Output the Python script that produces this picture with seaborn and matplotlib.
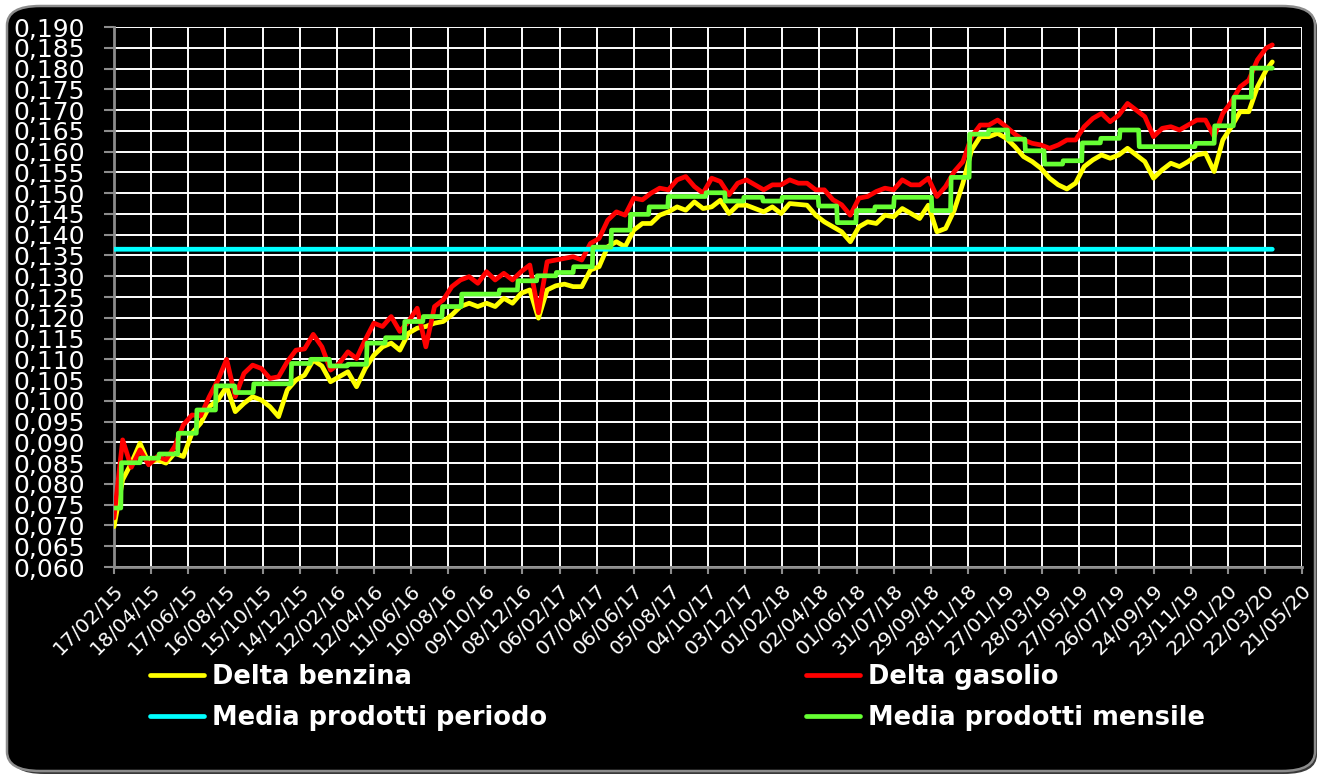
import numpy as np
import pandas as pd
import matplotlib
matplotlib.use("Agg")
import matplotlib.pyplot as plt
import matplotlib.dates as mdates
from matplotlib.patches import FancyBboxPatch
from matplotlib.ticker import FuncFormatter, MultipleLocator
import seaborn as sns

# campioni ogni 14 giorni + ultimo giorno disponibile
date_campioni = pd.date_range("2015-02-17", periods=134, freq="14D").append(
    pd.DatetimeIndex(["2020-04-03"]))

delta_benzina = [
    0.0697, 0.0810, 0.0850, 0.0898, 0.0850, 0.0858, 0.0850, 0.0874, 0.0866, 0.0922,
    0.0946, 0.0986, 0.1002, 0.1034, 0.0974, 0.0994, 0.1010, 0.1002, 0.0986, 0.0962,
    0.1026, 0.1050, 0.1062, 0.1098, 0.1084, 0.1046, 0.1058, 0.1070, 0.1034, 0.1078,
    0.1110, 0.1130, 0.1139, 0.1122, 0.1163, 0.1175, 0.1179, 0.1187, 0.1191, 0.1207,
    0.1227, 0.1235, 0.1227, 0.1235, 0.1227, 0.1247, 0.1235, 0.1259, 0.1267, 0.1199,
    0.1267, 0.1277, 0.1281, 0.1275, 0.1275, 0.1315, 0.1323, 0.1371, 0.1383, 0.1371,
    0.1411, 0.1427, 0.1427, 0.1447, 0.1455, 0.1467, 0.1459, 0.1479, 0.1463, 0.1467,
    0.1483, 0.1451, 0.1471, 0.1471, 0.1463, 0.1455, 0.1467, 0.1451, 0.1475, 0.1473,
    0.1471, 0.1447, 0.1431, 0.1419, 0.1407, 0.1383, 0.1419, 0.1431, 0.1427, 0.1447,
    0.1443, 0.1463, 0.1451, 0.1439, 0.1471, 0.1407, 0.1415, 0.1459, 0.1524, 0.1604,
    0.1636, 0.1636, 0.1644, 0.1632, 0.1612, 0.1588, 0.1576, 0.1560, 0.1536, 0.1520,
    0.1510, 0.1524, 0.1564, 0.1580, 0.1592, 0.1584, 0.1592, 0.1608, 0.1592, 0.1576,
    0.1536, 0.1556, 0.1572, 0.1564, 0.1576, 0.1592, 0.1596, 0.1552, 0.1628, 0.1660,
    0.1696, 0.1696, 0.1756, 0.1796, 0.1816,
]

delta_gasolio = [
    0.0718, 0.0906, 0.0840, 0.0882, 0.0846, 0.0866, 0.0858, 0.0890, 0.0942, 0.0966,
    0.0964, 0.1010, 0.1050, 0.1100, 0.1010, 0.1066, 0.1086, 0.1078, 0.1054, 0.1058,
    0.1094, 0.1122, 0.1125, 0.1160, 0.1130, 0.1074, 0.1090, 0.1118, 0.1102, 0.1147,
    0.1187, 0.1179, 0.1203, 0.1167, 0.1191, 0.1223, 0.1130, 0.1227, 0.1243, 0.1275,
    0.1291, 0.1299, 0.1283, 0.1311, 0.1291, 0.1307, 0.1291, 0.1311, 0.1327, 0.1212,
    0.1335, 0.1339, 0.1343, 0.1347, 0.1339, 0.1379, 0.1391, 0.1435, 0.1455, 0.1447,
    0.1488, 0.1484, 0.1500, 0.1512, 0.1508, 0.1532, 0.1540, 0.1516, 0.1500, 0.1536,
    0.1528, 0.1496, 0.1524, 0.1532, 0.1520, 0.1508, 0.1520, 0.1520, 0.1532, 0.1524,
    0.1524, 0.1508, 0.1508, 0.1484, 0.1472, 0.1447, 0.1488, 0.1492, 0.1504, 0.1512,
    0.1508, 0.1532, 0.1520, 0.1520, 0.1536, 0.1492, 0.1516, 0.1552, 0.1576, 0.1636,
    0.1664, 0.1664, 0.1676, 0.1660, 0.1642, 0.1628, 0.1620, 0.1616, 0.1608, 0.1616,
    0.1628, 0.1628, 0.1660, 0.1680, 0.1692, 0.1672, 0.1688, 0.1716, 0.1700, 0.1684,
    0.1636, 0.1656, 0.1660, 0.1652, 0.1664, 0.1676, 0.1676, 0.1636, 0.1692, 0.1720,
    0.1756, 0.1772, 0.1821, 0.1849, 0.1857,
]

# media mensile dei due prodotti, da feb 2015 ad apr 2020
mesi = pd.period_range("2015-02", "2020-04", freq="M")
media_mensile = [
    0.0742, 0.0851, 0.0862, 0.0872, 0.0922, 0.0978, 0.1036, 0.1020, 0.1041, 0.1041, 0.1090,
    0.1100, 0.1084, 0.1088, 0.1139, 0.1152, 0.1191, 0.1203, 0.1227, 0.1257, 0.1257, 0.1267, 0.1289,
    0.1301, 0.1309, 0.1323, 0.1370, 0.1411, 0.1449, 0.1467, 0.1492, 0.1492, 0.1501, 0.1481, 0.1490,
    0.1481, 0.1490, 0.1490, 0.1469, 0.1429, 0.1458, 0.1467, 0.1490, 0.1490, 0.1458, 0.1538, 0.1642,
    0.1652, 0.1630, 0.1602, 0.1570, 0.1578, 0.1621, 0.1632, 0.1652, 0.1612, 0.1612, 0.1612, 0.1620,
    0.1662, 0.1731, 0.1801, 0.1801,
]
media_periodo = 0.1365

etichette_legenda = ["Delta benzina", "Delta gasolio",
                     "Media prodotti periodo", "Media prodotti mensile"]

giorni = pd.date_range("2015-02-17", "2020-04-03", freq="D")
mensile_giorni = pd.Series(media_mensile, index=mesi).reindex(giorni.to_period("M")).values

sns.set_style("dark", {"axes.facecolor": "black", "figure.facecolor": "white"})
plt.rcParams["font.family"] = ["DejaVu Sans"]

fig = plt.figure(figsize=(13.23, 7.77), dpi=100)
W, H = 1323, 777

# cornice nera arrotondata con ombra
ombra = FancyBboxPatch((11 / W, 3 / H), 1306 / W, 766 / H,
                       boxstyle="round,pad=0,rounding_size=0.025",
                       transform=fig.transFigure, facecolor="#3a3a3a",
                       edgecolor="none", zorder=-3)
cornice = FancyBboxPatch((7 / W, 6 / H), 1308 / W, 765 / H,
                         boxstyle="round,pad=0,rounding_size=0.025",
                         transform=fig.transFigure, facecolor="black",
                         edgecolor="#8c8c8c", linewidth=1.8, zorder=-2)
fig.patches.extend([ombra, cornice])

ax = fig.add_axes([114 / W, 1 - 567 / H, (1302 - 114) / W, (567 - 27) / H])
ax.set_facecolor("black")

sns.lineplot(x=date_campioni, y=delta_benzina, ax=ax, color="#ffff00",
             linewidth=3.4, label=etichette_legenda[0], zorder=3)
sns.lineplot(x=date_campioni, y=delta_gasolio, ax=ax, color="#ff0000",
             linewidth=3.4, label=etichette_legenda[1], zorder=4)
sns.lineplot(x=giorni, y=np.full(len(giorni), media_periodo), ax=ax,
             color="#00ffff", linewidth=3.4, label=etichette_legenda[2], zorder=5)
sns.lineplot(x=giorni, y=mensile_giorni, ax=ax, color="#66ff33",
             linewidth=3.4, label=etichette_legenda[3], zorder=6)

handles, labels = ax.get_legend_handles_labels()
if ax.get_legend() is not None:
    ax.get_legend().remove()

ax.set_xlim(pd.Timestamp("2015-02-17"), pd.Timestamp("2020-05-21"))
ax.set_xticks(pd.date_range("2015-02-17", "2020-05-21", freq="60D"))
ax.xaxis.set_major_formatter(mdates.DateFormatter("%d/%m/%y"))
ax.set_ylim(0.060, 0.190)
ax.yaxis.set_major_locator(MultipleLocator(0.005))
ax.yaxis.set_major_formatter(FuncFormatter(lambda v, p: f"{v:.3f}".replace(".", ",")))

ax.grid(True, color="white", linewidth=1.4)
ax.set_axisbelow(True)
for s in ["top", "right"]:
    ax.spines[s].set_visible(False)
for s in ["left", "bottom"]:
    ax.spines[s].set_color("#8c8c8c")
    ax.spines[s].set_linewidth(2)

ax.tick_params(axis="y", colors="#8c8c8c", labelcolor="white", length=7,
               width=1.5, pad=14, labelsize=18, left=True, direction="out")
ax.tick_params(axis="x", colors="#8c8c8c", labelcolor="white", length=5,
               width=1.5, pad=5, labelsize=14.5, bottom=True, direction="out")
plt.setp(ax.get_xticklabels(), rotation=45, ha="right", rotation_mode="anchor")
ax.set_xlabel("")
ax.set_ylabel("")

ordine = [0, 2, 1, 3]
leg = fig.legend([handles[i] for i in ordine], [labels[i] for i in ordine],
                 loc="upper left", bbox_to_anchor=(150 / W, 1 - 664 / H),
                 ncol=2, frameon=False, borderpad=0, borderaxespad=0,
                 handlelength=2.1, handletextpad=0.3, columnspacing=10.1,
                 labelspacing=0.6, prop={"weight": "bold", "size": 18.5})
for t in leg.get_texts():
    t.set_color("white")

fig.savefig("out.png", dpi=100, facecolor="white")
